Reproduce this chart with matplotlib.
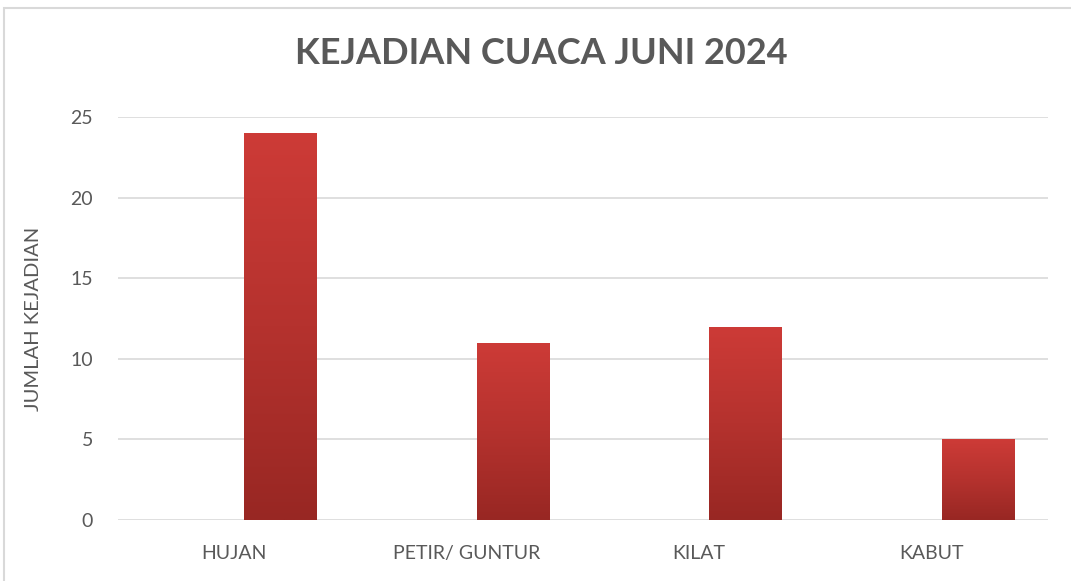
import numpy as np
import matplotlib.pyplot as plt
from matplotlib.patches import Rectangle
from matplotlib.colors import LinearSegmentedColormap

kategori = ['HUJAN', 'PETIR/ GUNTUR', 'KILAT', 'KABUT']
jumlah = [24, 11, 12, 5]

abu = '#595959'
plt.rcParams['font.family'] = ['Lato', 'DejaVu Sans']

fig = plt.figure(figsize=(10.71, 5.81), dpi=100)
# bingkai grafik
fig.patches.append(Rectangle((4 / 1071, -0.1), 1.2, 1 - 8 / 581 + 0.1,
                             transform=fig.transFigure, fill=False,
                             edgecolor='#d9d9d9', lw=1.5))

ax = fig.add_axes([118 / 1071, 1 - 520 / 581, 930 / 1071, 403 / 581])
x = np.arange(len(kategori))
bars = ax.bar(x + 0.198, jumlah, width=0.31, color='#b83430', zorder=3)

# gradasi merah pada batang
grad = np.linspace(0, 1, 256).reshape(-1, 1)
cmap = LinearSegmentedColormap.from_list('merah', ['#982723', '#b5322e', '#cd3b37'])
for b in bars:
    x0, y0 = b.get_x(), b.get_y()
    w, h = b.get_width(), b.get_height()
    im = ax.imshow(grad, cmap=cmap, origin='lower', aspect='auto',
                   extent=(x0, x0 + w, y0, y0 + h), zorder=4)
    im.set_clip_path(b)

ax.set_xlim(-0.5, 3.5)
ax.set_ylim(0, 25)
ax.set_yticks([0, 5, 10, 15, 20, 25])
ax.set_xticks(x)
ax.set_xticklabels(kategori)
ax.grid(axis='y', color='#d9d9d9', lw=1.2, zorder=0)
for s in ax.spines.values():
    s.set_visible(False)
ax.tick_params(length=0, labelsize=14, colors=abu)
ax.tick_params(axis='x', pad=18)
ax.tick_params(axis='y', pad=18)
ax.set_ylabel('JUMLAH KEJADIAN', fontsize=14.5, color=abu)
ax.yaxis.set_label_coords(-0.082, 0.50)

fig.text(0.505, 1 - 54 / 581, 'KEJADIAN CUACA JUNI 2024', ha='center', va='center',
         fontsize=26, fontweight='bold', color=abu)

fig.savefig('out.png', dpi=100)
